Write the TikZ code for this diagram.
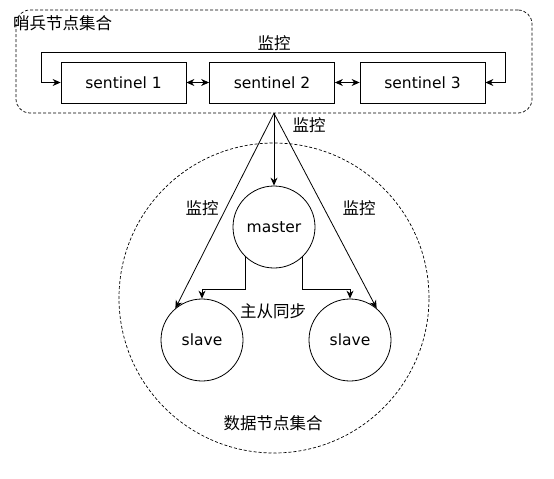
\documentclass[tikz,border=0pt]{standalone}
\usepackage{fontspec}
\setmainfont{DejaVu Sans}
\newfontfamily\cjk{Noto Sans CJK SC}
\usetikzlibrary{arrows.meta}
\begin{document}
\begin{tikzpicture}[x=1pt,y=-1pt,
  box/.style={draw, line width=0.8pt, minimum width=125pt, minimum height=41pt, inner sep=0pt, font=\fontsize{15.5}{18}\selectfont},
  circ/.style={draw, circle, line width=0.8pt, minimum size=82pt, inner sep=0pt, font=\fontsize{15.5}{18}\selectfont},
  lbl/.style={font=\cjk\fontsize{16.5}{19}\selectfont, inner sep=0pt},
  arr/.style={-{Stealth[length=8pt,width=7pt]}, line width=0.8pt},
  dbl/.style={{Stealth[length=8pt,width=7pt]}-{Stealth[length=8pt,width=7pt]}, line width=0.8pt},
  grp/.style={draw, dash pattern=on 3pt off 2pt, line width=0.7pt, inner sep=0pt}
]
\useasboundingbox (0,0) rectangle (554,479);
% data group
\node[grp, circle, minimum size=310pt] (dgroup) at (274,298) {};
% sentinel group
\node[grp, rounded corners=14pt, minimum width=516pt, minimum height=103pt] (sgroup) at (274,61.5) {};
\node[lbl, anchor=west] (sglabel) at (13,23) {哨兵节点集合};
% sentinels
\node[box] (s1) at (123.5,82.5) {sentinel 1};
\node[box] (s2) at (272,82.5) {sentinel 2};
\node[box] (s3) at (422.5,82.5) {sentinel 3};
\coordinate (lt) at (41,52);
\coordinate (rt) at (505,52);
\draw[dbl] (s1.west) -| (lt) -- (rt) |- (s3.east);
\node[lbl] (looplbl) at (274,43) {监控};
\draw[dbl] (s1.east) -- (s2.west);
\draw[dbl] (s2.east) -- (s3.west);
% data nodes
\node[circ] (master) at (274,227) {master};
\node[circ] (slave1) at (202,340) {slave};
\node[circ] (slave2) at (350,340) {slave};
\draw[arr] (sgroup.south) -- (master.north);
\draw[arr] (sgroup.south) -- (slave1.130);
\draw[arr] (sgroup.south) -- (slave2.50);
\coordinate (ml) at (202,289);
\coordinate (mr) at (350,289);
\draw[arr] (master.227) |- (ml) -- (slave1.north);
\draw[arr] (master.313) |- (mr) -- (slave2.north);
% labels
\node[lbl] (mon1) at (309,125) {监控};
\node[lbl] (mon2) at (202,208) {监控};
\node[lbl] (mon3) at (359,208) {监控};
\node[lbl] (synclbl) at (273,311) {主从同步};
\node[lbl] (dglabel) at (273,423) {数据节点集合};
\end{tikzpicture}
\end{document}
